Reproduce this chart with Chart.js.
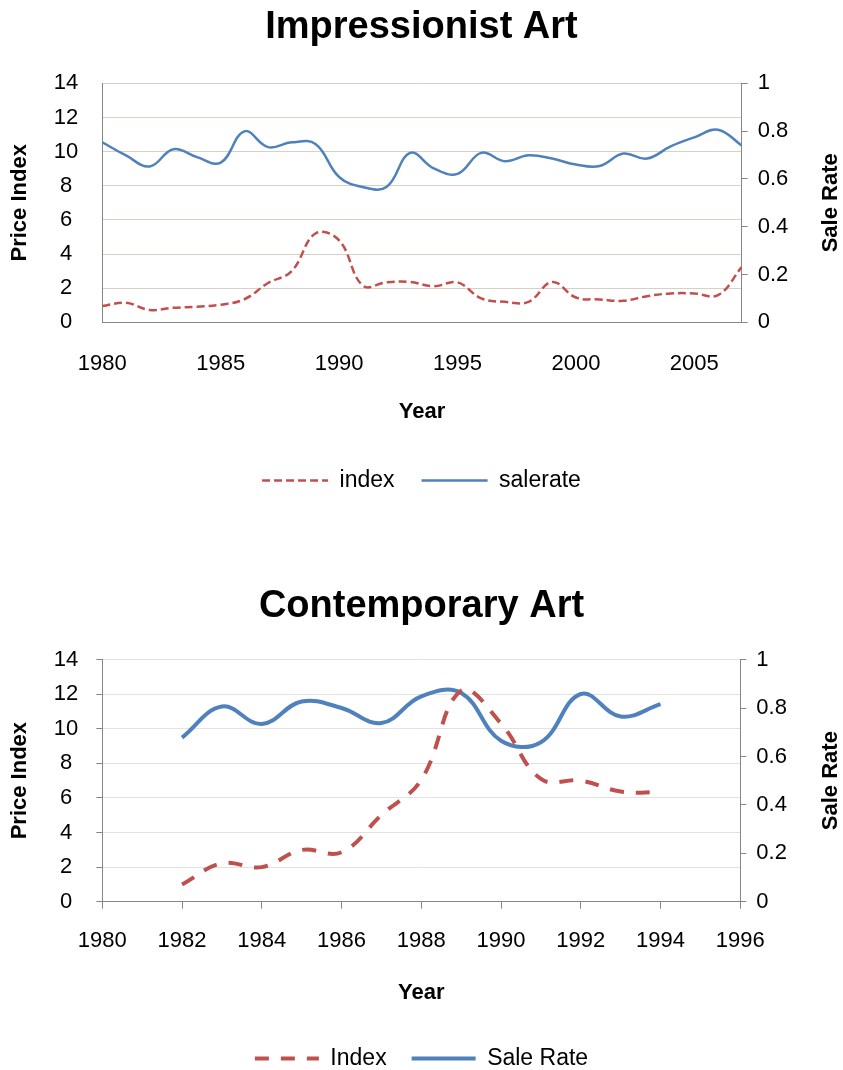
<!DOCTYPE html>
<html>
<head>
<meta charset="utf-8">
<script src="https://cdn.jsdelivr.net/npm/chart.js@4.4.1/dist/chart.umd.min.js"></script>
<style>
  html, body { margin: 0; padding: 0; background: #fff; overflow: hidden; width: 843px; height: 1070px; }
  .box { position: absolute; left: 0; width: 843px; }
</style>
</head>
<body>
<div class="box" style="top:0;height:502px"><canvas id="impressionist" width="843" height="502"></canvas></div>
<div class="box" style="top:560px;height:520px"><canvas id="contemporary" width="843" height="520"></canvas></div>
<script>
// Impressionist art, yearly 1980-2007
const impYears = [1980, 1981, 1982, 1983, 1984, 1985, 1986, 1987, 1988, 1989,
  1990, 1991, 1992, 1993, 1994, 1995, 1996, 1997, 1998, 1999,
  2000, 2001, 2002, 2003, 2004, 2005, 2006, 2007]
const impIndex = [0.95, 1.14, 0.72, 0.85, 0.91, 1.03, 1.35, 2.30, 3.00, 5.20,
  4.80, 2.15, 2.34, 2.36, 2.11, 2.34, 1.40, 1.20, 1.20, 2.36,
  1.45, 1.34, 1.26, 1.53, 1.69, 1.69, 1.59, 3.23]
const impSaleRate = [0.753, 0.698, 0.652, 0.724, 0.691, 0.668, 0.799, 0.733, 0.753, 0.746,
  0.608, 0.566, 0.566, 0.709, 0.644, 0.621, 0.709, 0.674, 0.699, 0.685,
  0.660, 0.654, 0.706, 0.685, 0.736, 0.774, 0.806, 0.740]
const impYearTicks = [1980, 1985, 1990, 1995, 2000, 2005]

// Contemporary art, yearly 1982-1994
const conYears = [1982, 1983, 1984, 1985, 1986, 1987, 1988, 1989, 1990, 1991, 1992, 1993, 1994]
const conIndex = [1.00, 2.22, 2.00, 2.99, 2.86, 5.02, 7.05, 12.2, 10.3, 7.1, 7.0, 6.37, 6.33]
const conSaleRate = [0.678, 0.806, 0.734, 0.827, 0.800, 0.738, 0.848, 0.862, 0.665, 0.659, 0.858, 0.765, 0.816]
const conYearTicks = [1980, 1982, 1984, 1986, 1988, 1990, 1992, 1994, 1996]

const indexTicks = [0, 2, 4, 6, 8, 10, 12, 14]
const rateTicks = [0, 0.2, 0.4, 0.6, 0.8, 1]

const FONT = "'Liberation Sans', Arial, sans-serif"
const AXIS = '#868686'
const RED = '#C0504D'
const BLUE = '#4F81BD'

// Excel draws the right axis title reading upwards, Chart.js would rotate it the other way
const rightTitle = {
  id: 'rightTitle',
  afterDraw(chart, args, opts) {
    const {ctx, chartArea} = chart
    ctx.save()
    ctx.font = `bold ${opts.size}px ${FONT}`
    ctx.fillStyle = '#000'
    ctx.textAlign = 'center'
    ctx.textBaseline = 'middle'
    ctx.translate(opts.x, (chartArea.top + chartArea.bottom) / 2)
    ctx.rotate(-Math.PI / 2)
    ctx.fillText(opts.text, 0, 0)
    ctx.restore()
  }
}

// with usePointStyle the legend takes its style from the point, so the dash gets lost
const legendLabels = (chart) =>
  Chart.defaults.plugins.legend.labels.generateLabels(chart).map(item => {
    const ds = chart.data.datasets[item.datasetIndex]
    return {...item, lineDash: ds.borderDash || [], lineWidth: ds.borderWidth, strokeStyle: ds.borderColor}
  })

const toPoints = (xs, ys) => xs.map((x, i) => ({x, y: ys[i]}))
const fixTicks = (values) => (scale) => { scale.ticks = values.map(value => ({value})) }

const makeChart = (id, c) => {
  new Chart(document.getElementById(id), {
    type: 'line',
    data: {
      datasets: [{
        label: c.indexLabel,
        data: toPoints(c.years, c.index),
        yAxisID: 'y',
        borderColor: RED,
        borderWidth: c.lineWidth,
        borderDash: c.dash,
        tension: 0.4,
        pointRadius: 0,
        fill: false
      }, {
        label: c.rateLabel,
        data: toPoints(c.years, c.rate),
        yAxisID: 'y2',
        borderColor: BLUE,
        borderWidth: c.lineWidth,
        tension: 0.4,
        pointRadius: 0,
        fill: false
      }]
    },
    options: {
      responsive: false,
      animation: false,
      layout: {padding: 0},
      scales: {
        x: {
          type: 'linear',
          min: c.xMin,
          max: c.xMax,
          afterBuildTicks: fixTicks(c.xTicks),
          afterFit: (s) => { s.height = c.xHeight },
          ticks: {
            callback: v => String(v),
            font: {family: FONT, size: 22},
            color: '#000',
            padding: c.xPad,
            maxRotation: 0,
            autoSkip: false
          },
          grid: {
            display: c.xTickMarks,
            drawOnChartArea: false,
            drawTicks: c.xTickMarks,
            tickLength: 7,
            tickColor: AXIS
          },
          border: {display: true, color: AXIS, width: 1},
          title: {
            display: true,
            text: 'Year',
            font: {family: FONT, size: 22, weight: 'bold'},
            color: '#000',
            padding: {top: 0, bottom: c.yearPad}
          }
        },
        y: {
          position: 'left',
          min: 0,
          max: 14,
          afterBuildTicks: fixTicks(indexTicks),
          afterFit: (s) => { s.width = c.left },
          ticks: {
            crossAlign: 'center',
            font: {family: FONT, size: 22},
            color: '#000',
            padding: c.yTickMarks ? 18 : 24
          },
          grid: {
            color: c.gridColor,
            drawTicks: c.yTickMarks,
            tickLength: 6,
            tickColor: AXIS
          },
          border: {display: true, color: AXIS, width: 1},
          title: {
            display: true,
            text: 'Price Index',
            font: {family: FONT, size: 22, weight: 'bold'},
            color: '#000',
            padding: {top: 7, bottom: 0}
          }
        },
        y2: {
          position: 'right',
          min: 0,
          max: 1,
          afterBuildTicks: fixTicks(rateTicks),
          afterFit: (s) => { s.width = 843 - c.right },
          ticks: {
            callback: v => String(+v.toFixed(1)),
            font: {family: FONT, size: 22},
            color: '#000',
            padding: 10
          },
          grid: {
            drawOnChartArea: false,
            drawTicks: true,
            tickLength: 6,
            color: AXIS
          },
          border: {display: true, color: AXIS, width: 1}
        }
      },
      plugins: {
        title: {
          display: true,
          text: c.title,
          font: {family: FONT, size: 38, weight: 'bold'},
          color: '#000',
          padding: {top: c.titleTop, bottom: c.titleBottom}
        },
        legend: {
          position: 'bottom',
          labels: {
            usePointStyle: true,
            pointStyle: 'line',
            pointStyleWidth: c.sampleWidth,
            generateLabels: legendLabels,
            font: {family: FONT, size: 23},
            color: '#000',
            padding: c.legendPad
          }
        },
        tooltip: {enabled: false},
        rightTitle: {text: 'Sale Rate', size: 22, x: 831}
      }
    },
    plugins: [rightTitle]
  })
}

makeChart('impressionist', {
  title: 'Impressionist Art',
  indexLabel: 'index',
  rateLabel: 'salerate',
  years: impYears,
  index: impIndex,
  rate: impSaleRate,
  xMin: 1980,
  xMax: 2007,
  xTicks: impYearTicks,
  xTickMarks: false,
  yTickMarks: false,
  xPad: 28,
  xHeight: 119.7,
  yearPad: 16.8,
  left: 102.3,
  right: 741.7,
  gridColor: '#D6D1C2',
  lineWidth: 2.5,
  dash: [8, 4],
  titleTop: 5,
  titleBottom: 32.7,
  sampleWidth: 66,
  legendPad: 27
})

makeChart('contemporary', {
  title: 'Contemporary Art',
  indexLabel: 'Index',
  rateLabel: 'Sale Rate',
  years: conYears,
  index: conIndex,
  rate: conSaleRate,
  xMin: 1980,
  xMax: 1996,
  xTicks: conYearTicks,
  xTickMarks: true,
  yTickMarks: true,
  xPad: 19,
  xHeight: 120.3,
  yearPad: 16.3,
  left: 102.3,
  right: 740.3,
  gridColor: '#E2E2E2',
  lineWidth: 4,
  dash: [14, 12],
  titleTop: 23.7,
  titleBottom: 30.3,
  sampleWidth: 64,
  legendPad: 25
})
</script>
</body>
</html>
